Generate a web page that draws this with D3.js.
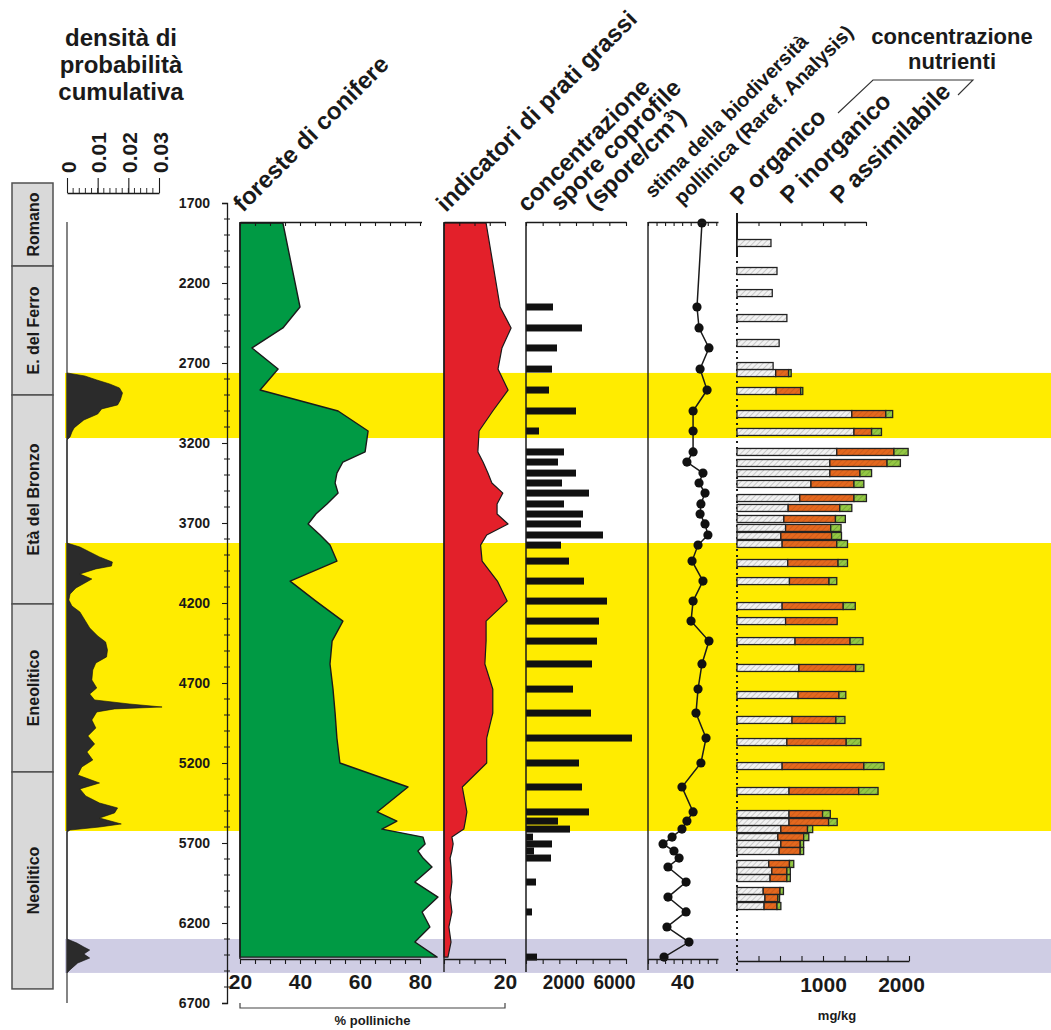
<!DOCTYPE html>
<html>
<head>
<meta charset="utf-8">
<script src="https://cdn.jsdelivr.net/npm/d3@7"></script>
<style>
  body { margin: 0; background: #fff; }
  svg { display: block; }
  text { font-family: "Liberation Sans", Arial, sans-serif; font-weight: bold; fill: #1a1a1a; }
</style>
</head>
<body>
<svg id="chart" width="1051" height="1030"></svg>
<script>
// ---- data (ages in years BP) ----
const periodNames = ["Romano", "E. del Ferro", "Età del Bronzo", "Eneolitico", "Neolitico"];
const periodStart = [1575, 2094, 2900, 4206, 5256];
const periodEnd = [2094, 2900, 4206, 5256, 6612];

const yellowBands = [[2762, 3169], [3825, 5625]];
const lavenderBands = [[6300, 6512]];

// cumulative probability density
const densityAges = [2762, 2781, 2806, 2831, 2856, 2887, 2931, 2962, 2987, 3019, 3056, 3087, 3106, 3131, 3162, 3181,
  3825, 3850, 3881, 3912, 3944, 3969, 3987, 4019, 4050, 4075, 4106, 4144, 4181, 4219, 4256, 4306, 4356, 4406, 4444,
  4494, 4537, 4575, 4619, 4681, 4731, 4769, 4806, 4831, 4850, 4862, 4881, 4931, 4981, 5031, 5081, 5131, 5181, 5225,
  5275, 5325, 5362, 5406, 5450, 5481, 5512, 5544, 5581, 5600, 5619, 5631,
  6300, 6325, 6350, 6369, 6394, 6419, 6450, 6487, 6512];
const densityValues = [0, 0.0058, 0.0097, 0.0139, 0.0171, 0.0181, 0.0174, 0.0165, 0.0113, 0.0100, 0.0055, 0.0035, 0.0023, 0.0016, 0.0010, 0,
  0, 0.0042, 0.0074, 0.0106, 0.0148, 0.0145, 0.0094, 0.0042, 0.0081, 0.0058, 0.0029, 0.0010, 0.0006, 0.0016, 0.0042, 0.0058, 0.0074, 0.0100, 0.0126,
  0.0132, 0.0129, 0.0094, 0.0084, 0.0081, 0.0097, 0.0074, 0.0090, 0.0203, 0.0310, 0.0155, 0.0097, 0.0081, 0.0094, 0.0068, 0.0090, 0.0065, 0.0084, 0.0048,
  0.0035, 0.0106, 0.0042, 0.0061, 0.0106, 0.0165, 0.0155, 0.0106, 0.0177, 0.0106, 0.0010, 0,
  0, 0.0032, 0.0055, 0.0074, 0.0055, 0.0074, 0.0035, 0.0013, 0];

// pollen samples
const sampleAges = [1825, 2350, 2481, 2606, 2738, 2869, 3000, 3125, 3256, 3319, 3388, 3450, 3513, 3581, 3644, 3706,
  3775, 3838, 3938, 4063, 4188, 4313, 4438, 4581, 4738, 4888, 5044, 5200, 5350, 5506, 5563, 5613, 5663, 5706, 5750,
  5794, 5850, 5944, 6038, 6131, 6225, 6319, 6413];
const conifers = [34.3, 40, 34.3, 24, 32.7, 26.7, 52.7, 62.7, 61.7, 54.3, 52.3, 51.7, 52.7, 49, 45.3, 42.7,
  46.7, 50, 52.3, 36.7, 45.3, 54.3, 50.7, 50, 51, 51.7, 52.3, 53.3, 76, 65.7, 72.3, 67.3, 81, 81.7, 79.3,
  81, 84, 78.3, 86, 80.7, 83.3, 78.3, 85.7];
const meadows = [13.8, 18.4, 22, 19, 17.7, 21, 16, 11.5, 11.1, 12.8, 14.4, 15.7, 19.3, 17.4, 17.4, 21,
  14, 12, 12.5, 17.5, 20.7, 13.8, 13.8, 13.4, 16, 16, 14, 14, 6, 7.5, 7, 6.5, 2.6, 3, 2.6,
  2, 2.3, 2.6, 2, 2.6, 1.6, 2.3, 1.3];
const spores = [0, 1620, 3360, 1860, 1560, 1380, 3000, 780, 2280, 1920, 3000, 2160, 3780, 2280, 3420, 3300,
  4620, 2100, 2580, 3480, 4860, 4380, 4260, 3960, 2820, 3900, 6360, 3180, 3360, 3780, 1920, 2640, 420, 1560, 480,
  1500, 0, 600, 0, 360, 0, 0, 660];
const diversity = [51.6, 48.7, 49.9, 55.7, 50.5, 54.6, 46.4, 46.4, 46.4, 42.8, 52.2, 49.9, 53.4, 51, 50.5, 53.4,
  55.1, 49.3, 45.8, 52.2, 46.4, 45.2, 55.7, 51.6, 49.3, 48.1, 54, 51, 39.9, 46.4, 42.8, 39.9, 34.1, 28.8, 35.2,
  38.2, 31.7, 42.3, 31.7, 42.3, 31.1, 44, 29.4];

// phosphorus (mg/kg)
const pAges = [1950, 2125, 2263, 2419, 2575, 2719, 2763, 2875, 3019, 3131, 3256, 3325, 3388, 3456, 3544, 3606,
  3675, 3731, 3781, 3831, 3950, 4063, 4219, 4313, 4438, 4606, 4775, 4931, 5069, 5219, 5375, 5519, 5569, 5613,
  5663, 5706, 5750, 5831, 5875, 5919, 6000, 6044, 6094];
const pOrganic = [395, 465, 410, 580, 490, 420, 450, 455, 1335, 1360, 1160, 1080, 1080, 860, 730, 595,
  545, 565, 510, 525, 590, 610, 525, 565, 675, 720, 710, 640, 580, 525, 605, 605, 605, 510,
  475, 510, 490, 370, 405, 385, 305, 325, 315];
const pInorganic = [0, 0, 0, 0, 0, 0, 150, 285, 395, 205, 665, 665, 350, 500, 630, 600,
  600, 525, 590, 635, 585, 460, 710, 600, 640, 660, 475, 510, 690, 950, 810, 390, 460, 310,
  300, 225, 245, 240, 175, 195, 195, 150, 150];
const pAssimilable = [0, 0, 0, 0, 0, 0, 30, 25, 80, 115, 165, 155, 135, 115, 145, 140,
  115, 120, 115, 125, 110, 90, 140, 0, 150, 95, 80, 105, 170, 235, 225, 90, 100, 60,
  60, 40, 40, 50, 40, 40, 40, 20, 45];

// ---- layout ----
const W = 1051;
const svg = d3.select("#chart");
const topY = 222, botY = 959;

const y = d3.scaleLinear().domain([1700, 6700]).range([203, 1003]);
const xDen = d3.scaleLinear().domain([0, 0.03]).range([67, 159]);
const xCon = d3.scaleLinear().domain([20, 80]).range([240, 420]);
const xMea = d3.scaleLinear().domain([0, 20]).range([444, 505]);
const xSpo = d3.scaleLinear().domain([0, 6000]).range([526, 626]);
const xDiv = d3.scaleLinear().domain([20, 61]).range([648, 718]);
const xP = d3.scaleLinear().domain([0, 2000]).range([737, 909]);

// hatch patterns for the P bars
const defs = svg.append("defs");
function hatch(id, bg, fg) {
  const p = defs.append("pattern").attr("id", id)
    .attr("patternUnits", "userSpaceOnUse").attr("width", 4).attr("height", 4)
    .attr("patternTransform", "rotate(45)");
  p.append("rect").attr("width", 4).attr("height", 4).attr("fill", bg);
  p.append("line").attr("x1", 0).attr("y1", 0).attr("x2", 0).attr("y2", 4)
    .attr("stroke", fg).attr("stroke-width", 1);
}
hatch("hGray", "#f2f2f2", "#a0a0a0");
hatch("hOrange", "#e4681e", "#b8521a");
hatch("hGreen", "#94c843", "#5f8f2c");

// background bands
const bandG = svg.append("g");
function drawBands(list, color) {
  bandG.selectAll(null).data(list).enter().append("rect")
    .attr("x", 65).attr("width", W - 65)
    .attr("y", d => y(d[0])).attr("height", d => y(d[1]) - y(d[0]))
    .attr("fill", color);
}
drawBands(yellowBands, "#ffec00");
drawBands(lavenderBands, "#cfcde4");

// helper to style axes
function styleAxis(g, size) {
  g.select(".domain").attr("stroke", "#1a1a1a").attr("stroke-width", 1.3);
  g.selectAll(".tick line").attr("stroke", "#1a1a1a").attr("stroke-width", 1.1);
  g.selectAll(".tick text").attr("font-size", size).attr("fill", "#1a1a1a")
    .attr("font-family", "Liberation Sans, Arial, sans-serif").attr("font-weight", "bold");
}

// ---- period column ----
const per = svg.append("g");
periodNames.forEach((name, i) => {
  per.append("rect").attr("x", 12).attr("width", 41)
    .attr("y", y(periodStart[i])).attr("height", y(periodEnd[i]) - y(periodStart[i]))
    .attr("fill", "#d9d9d9").attr("stroke", "#505050").attr("stroke-width", 1.5);
  const cy = (y(periodStart[i]) + y(periodEnd[i])) / 2;
  per.append("text").attr("transform", `translate(33,${cy}) rotate(-90)`)
    .attr("text-anchor", "middle").attr("dy", "0.35em").attr("font-size", 16).text(name);
});

// ---- density curve ----
const denData = densityAges.map((a, i) => ({ a, v: densityValues[i] }));
svg.append("path").datum(denData)
  .attr("d", d3.area().y(d => y(d.a)).x0(xDen(0)).x1(d => xDen(d.v)))
  .attr("fill", "#2b2b2b").attr("stroke", "#111").attr("stroke-width", 0.6);
svg.append("line").attr("x1", xDen(0)).attr("x2", xDen(0)).attr("y1", topY).attr("y2", y(6700))
  .attr("stroke", "#333").attr("stroke-width", 1.2);

const denAx = svg.append("g").attr("transform", "translate(0,193)")
  .call(d3.axisTop(xDen).tickValues([0, 0.01, 0.02, 0.03]).tickSize(15).tickSizeOuter(0).tickFormat(""));
styleAxis(denAx, 12);
denAx.selectAll(null).data(d3.range(0.002, 0.0295, 0.002)).enter().append("line")
  .attr("x1", d => xDen(d)).attr("x2", d => xDen(d)).attr("y1", 0).attr("y2", -5)
  .attr("stroke", "#1a1a1a").attr("stroke-width", 0.9);
denAx.selectAll(null).data([0, 0.01, 0.02, 0.03]).enter().append("text")
  .attr("transform", d => `translate(${xDen(d) + 1},-20) rotate(-90)`)
  .attr("text-anchor", "start").attr("dy", "0.36em").attr("font-size", 21).attr("font-weight", "normal")
  .text(d => d === 0 ? "0" : d.toFixed(2));

svg.selectAll(null).data(["densità di", "probabilità", "cumulativa"]).enter().append("text")
  .attr("x", 121).attr("y", (d, i) => 46 + i * 27).attr("text-anchor", "middle")
  .attr("font-size", 24).attr("fill", "#333").text(d => d);

// ---- age axis ----
const ageAx = svg.append("g").attr("transform", "translate(227,0)")
  .call(d3.axisLeft(y).tickValues(d3.range(1700, 6701, 500)).tickFormat(d3.format("d"))
    .tickSize(5).tickSizeOuter(5).tickPadding(12));
styleAxis(ageAx, 14);
ageAx.selectAll(null).data(d3.range(1800, 6700, 100).filter(d => (d - 1700) % 500 !== 0)).enter().append("line")
  .attr("x1", -3).attr("x2", 3).attr("y1", d => y(d)).attr("y2", d => y(d))
  .attr("stroke", "#1a1a1a").attr("stroke-width", 1);

// ---- conifer forests ----
const samples = sampleAges.map((a, i) => ({
  a, con: conifers[i], mea: meadows[i], spo: spores[i], div: diversity[i]
}));
svg.append("path").datum(samples)
  .attr("d", d3.area().y(d => y(d.a)).x0(xCon(20)).x1(d => xCon(d.con)))
  .attr("fill", "#009a44").attr("stroke", "#1a1a1a").attr("stroke-width", 1.4).attr("stroke-linejoin", "round");
svg.append("line").attr("x1", xCon(20)).attr("x2", xCon(20)).attr("y1", topY).attr("y2", botY)
  .attr("stroke", "#1a1a1a").attr("stroke-width", 1.4);
const conTop = svg.append("g").attr("transform", `translate(0,${topY})`)
  .call(d3.axisTop(xCon.copy().domain([20, 80.5]).range([240, 421.5])).tickValues(d3.range(20, 81, 5)).tickSize(-4).tickSizeOuter(0).tickFormat(""));
styleAxis(conTop, 12);
const conBot = svg.append("g").attr("transform", `translate(0,${botY})`)
  .call(d3.axisBottom(xCon).tickValues(d3.range(20, 81, 5)).tickSize(5).tickSizeOuter(0).tickPadding(10)
    .tickFormat(d => d % 20 === 0 ? d : ""));
styleAxis(conBot, 21);

// ---- rich-meadow indicators ----
svg.append("path").datum(samples)
  .attr("d", d3.area().y(d => y(d.a)).x0(xMea(0)).x1(d => xMea(d.mea)))
  .attr("fill", "#e3202a").attr("stroke", "#1a1a1a").attr("stroke-width", 1.2).attr("stroke-linejoin", "round");
svg.append("line").attr("x1", xMea(0)).attr("x2", xMea(0)).attr("y1", topY).attr("y2", 972)
  .attr("stroke", "#1a1a1a").attr("stroke-width", 1.4);
const meaTop = svg.append("g").attr("transform", `translate(0,${topY})`)
  .call(d3.axisTop(xMea).tickValues(d3.range(0, 21, 5)).tickSize(-4).tickSizeOuter(0).tickFormat(""));
styleAxis(meaTop, 12);
const meaBot = svg.append("g").attr("transform", `translate(0,${botY})`)
  .call(d3.axisBottom(xMea).tickValues(d3.range(0, 21, 5)).tickSize(5).tickSizeOuter(0).tickPadding(10)
    .tickFormat(d => d === 20 ? d : ""));
styleAxis(meaBot, 21);

// "% polliniche" bracket
svg.append("path").attr("d", `M${xCon(20)},1003 V1008 H${xMea(20)} V1003`)
  .attr("fill", "none").attr("stroke", "#444").attr("stroke-width", 1.2);
svg.append("text").attr("x", (xCon(20) + xMea(20)) / 2).attr("y", 1025).attr("text-anchor", "middle")
  .attr("font-size", 13).text("% polliniche");

// ---- coprophilous spores ----
svg.selectAll(null).data(samples.filter(d => d.spo > 0)).enter().append("rect")
  .attr("x", xSpo(0)).attr("y", d => y(d.a) - 3.5).attr("height", 7)
  .attr("width", d => xSpo(d.spo) - xSpo(0)).attr("fill", "#111");
svg.append("line").attr("x1", xSpo(0)).attr("x2", xSpo(0)).attr("y1", topY).attr("y2", 972)
  .attr("stroke", "#1a1a1a").attr("stroke-width", 1.5);
const spoTop = svg.append("g").attr("transform", `translate(0,${topY})`)
  .call(d3.axisTop(xSpo).tickValues(d3.range(0, 6001, 1000)).tickSize(-4).tickSizeOuter(0).tickFormat(""));
styleAxis(spoTop, 12);
const spoBot = svg.append("g").attr("transform", `translate(0,${botY})`)
  .call(d3.axisBottom(xSpo).tickValues(d3.range(0, 6001, 1000)).tickSize(5).tickSizeOuter(0).tickPadding(10)
    .tickFormat(d => d === 2000 || d === 6000 ? d : ""));
styleAxis(spoBot, 21);
spoBot.selectAll(".tick text").filter(d => d === 2000 || d === 6000)
  .attr("textLength", 42).attr("lengthAdjust", "spacingAndGlyphs")
  .attr("dx", d => d === 2000 ? 4 : -12);

// ---- pollen diversity ----
svg.append("line").attr("x1", xDiv(20)).attr("x2", xDiv(20)).attr("y1", topY).attr("y2", 970)
  .attr("stroke", "#1a1a1a").attr("stroke-width", 1.4);
svg.append("path").datum(samples)
  .attr("d", d3.line().x(d => xDiv(d.div)).y(d => y(d.a)))
  .attr("fill", "none").attr("stroke", "#1a1a1a").attr("stroke-width", 1.5);
svg.selectAll(null).data(samples).enter().append("circle")
  .attr("cx", d => xDiv(d.div)).attr("cy", d => y(d.a)).attr("r", 4.6).attr("fill", "#111");
const divTop = svg.append("g").attr("transform", `translate(0,${topY})`)
  .call(d3.axisTop(xDiv).tickValues(d3.range(20, 61, 5)).tickSize(-4).tickSizeOuter(0).tickFormat(""));
styleAxis(divTop, 12);
const divBot = svg.append("g").attr("transform", `translate(0,${botY})`)
  .call(d3.axisBottom(xDiv).tickValues(d3.range(20, 61, 5)).tickSize(5).tickSizeOuter(0).tickPadding(10)
    .tickFormat(d => d === 40 ? d : ""));
styleAxis(divBot, 21);

// ---- phosphorus ----
svg.append("line").attr("x1", xP(0)).attr("x2", xP(0)).attr("y1", 213).attr("y2", 975)
  .attr("stroke", "#1a1a1a").attr("stroke-width", 2).attr("stroke-dasharray", "2,4");
svg.append("line").attr("x1", xP(0)).attr("x2", xP(0)).attr("y1", 213).attr("y2", 257)
  .attr("stroke", "#1a1a1a").attr("stroke-width", 2);
const pRows = pAges.map((a, i) => ({ a, o: pOrganic[i], n: pInorganic[i], s: pAssimilable[i] }));
const pG = svg.append("g").attr("stroke", "#222").attr("stroke-width", 1.3);
pRows.forEach(d => {
  const yy = y(d.a) - 3.5;
  const parts = [[0, d.o, "url(#hGray)"], [d.o, d.o + d.n, "url(#hOrange)"], [d.o + d.n, d.o + d.n + d.s, "url(#hGreen)"]];
  parts.filter(p => p[1] > p[0]).forEach(p => {
    pG.append("rect").attr("x", xP(p[0])).attr("width", xP(p[1]) - xP(p[0]))
      .attr("y", yy).attr("height", 7).attr("fill", p[2]);
  });
});
const pTop = svg.append("g").attr("transform", `translate(0,${topY})`)
  .call(d3.axisTop(xP.copy().domain([0, 1500]).range([737, 866])).tickValues(d3.range(0, 1501, 250)).tickSize(-4).tickSizeOuter(0).tickFormat(""));
styleAxis(pTop, 12);
const pBot = svg.append("g").attr("transform", `translate(0,${botY + 2})`)
  .call(d3.axisBottom(xP).tickValues(d3.range(0, 2001, 250)).tickSize(-5).tickSizeOuter(0).tickPadding(16)
    .tickFormat(d => d === 1000 || d === 2000 ? d : ""));
styleAxis(pBot, 21);
pBot.selectAll(".tick text").attr("dx", d => d === 2000 ? -8 : 0);
svg.append("text").attr("x", 837).attr("y", 1020).attr("text-anchor", "middle").attr("font-size", 13).text("mg/kg");

// ---- rotated column titles ----
const titles = [
  ["foreste di conifere", 243, 213, 24],
  ["indicatori di prati grassi", 446, 213, 24],
  ["concentrazione", 527, 213, 24],
  ["spore coprofile", 560, 212, 24],
  ["stima della biodiversità", 653, 199, 20],
  ["pollinica (Raref. Analysis)", 682, 206, 20],
  ["P organico", 740, 206, 24],
  ["P inorganico", 790, 205, 24],
  ["P assimilabile", 840, 205, 24]
];
svg.selectAll(null).data(titles).enter().append("text")
  .attr("transform", d => `translate(${d[1]},${d[2]}) rotate(-45)`)
  .attr("font-size", d => d[3]).text(d => d[0]);
const cm = svg.append("text").attr("transform", "translate(595,211) rotate(-45)").attr("font-size", 24);
cm.append("tspan").text("(spore/cm");
cm.append("tspan").attr("font-size", 14).attr("dy", -10).text("3");
cm.append("tspan").attr("dy", 10).text(")");

svg.append("path").attr("d", "M838,113 L873,80 H973 L958,95")
  .attr("fill", "none").attr("stroke", "#333").attr("stroke-width", 1.1);
svg.selectAll(null).data(["concentrazione", "nutrienti"]).enter().append("text")
  .attr("x", 952).attr("y", (d, i) => 44 + i * 25).attr("text-anchor", "middle")
  .attr("font-size", 22).text(d => d);
</script>
</body>
</html>
